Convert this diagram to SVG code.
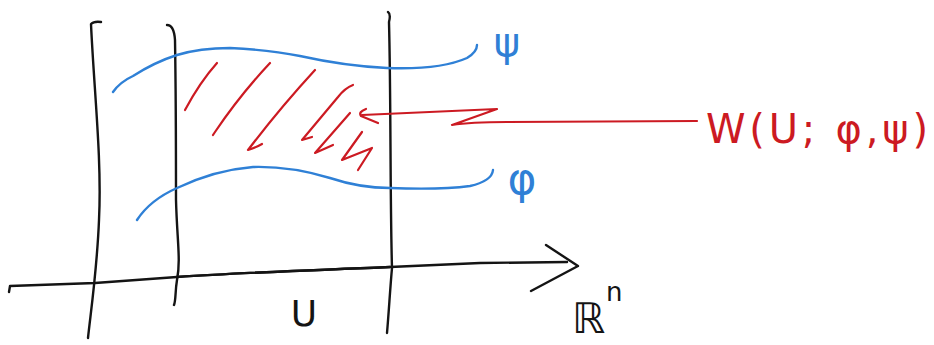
<svg xmlns="http://www.w3.org/2000/svg" width="934" height="345" viewBox="0 0 934 345">
<defs>
<style>
.k{fill:none;stroke:#141414;stroke-width:2.4;stroke-linecap:round;stroke-linejoin:round}
.b{fill:none;stroke:#2f80d6;stroke-width:2.4;stroke-linecap:round;stroke-linejoin:round}
.r{fill:none;stroke:#cc1a22;stroke-width:2.2;stroke-linecap:round;stroke-linejoin:round}
.tb{fill:#2f80d6;font-family:"DejaVu Sans",sans-serif}
.tr{fill:#cc1a22;font-family:"DejaVu Sans",sans-serif}
.tk{fill:#141414;font-family:"DejaVu Sans",sans-serif}
</style>
</defs>
<rect width="934" height="345" fill="#ffffff"/>
<g id="axis">
<path class="k" d="M9,292 L10,286 L95,283 L177,277 C250,272 320,270 390,267 L480,263 L567,262"/>
<path class="k" stroke-width="3.4" d="M177,277 C250,272 320,270 390,267"/>
<path class="k" d="M546,245 L578,266 L531,291"/>
<text class="tk" x="572" y="333" font-size="42">ℝ</text>
<text class="tk" x="606" y="301" font-size="26">n</text>
</g>
<g id="outer-lines">
<path class="k" d="M101,22 Q94,21 91,24 C94,90 102,160 99,220 C97,270 91,310 88,338"/>
<path class="k" d="M388,12 Q391,14 389,22 C391,100 390,200 392,268 C390,290 389,310 387,333"/>
</g>
<g id="set-U">
<path class="k" d="M167,25 Q174,25 175,40 C176,100 176,160 176,200 C177,240 181,260 177,280 C175,292 176,300 174,305"/>
<text class="tk" x="304" y="326" font-size="36" text-anchor="middle">U</text>
</g>
<g id="curve-psi">
<path class="b" d="M113,92 Q120,82 133,76 Q155,62 177,55 Q200,48 230,48 Q270,50 300,56 Q345,66 387,68 Q440,70 467,58 Q477,52 477,45"/>
<text class="tb" x="507" y="56" font-size="40" text-anchor="middle">ψ</text>
</g>
<g id="curve-phi">
<path class="b" d="M137,220 Q150,200 177,188 Q215,170 253,167 Q290,166 330,178 Q360,188 390,188 Q440,190 470,186 Q492,181 493,170"/>
<text class="tb" x="522" y="194" font-size="44" text-anchor="middle">φ</text>
</g>
<g id="region-W">
<path class="r" d="M217,63 Q200,82 185,110"/>
<path class="r" d="M270,63 Q240,95 215,132 L213,135"/>
<path class="r" d="M315,70 Q280,108 248,150 Q255,148 262,144"/>
<path class="r" d="M353,85 Q345,88 338,97 L302,140 L312,137"/>
<path class="r" d="M350,113 L315,153 L333,145"/>
<path class="r" d="M362,132 L342,160 L372,148 L358,170"/>
</g>
<g id="connectors">
<path class="r" d="M366,109 Q358,112 361,116 L378,123"/>
<path class="r" d="M362,115 L497,109 L452,125 Q470,122 507,122 L697,121"/>
</g>
<g id="label-W">
<text class="tr" x="706" y="143" font-size="40" textLength="222">W(U; φ,ψ)</text>
</g>
</svg>
